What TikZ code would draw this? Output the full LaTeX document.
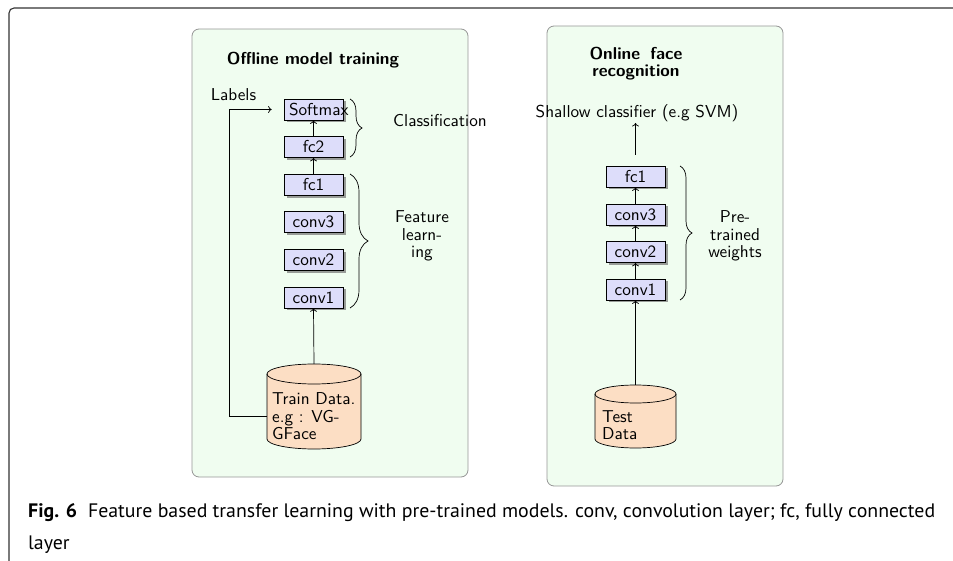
\documentclass[tikz,border=0pt]{standalone}
\usepackage{fontspec}
\setsansfont{lmsans10-regular.otf}[BoldFont=lmsans10-bold.otf]
\newfontfamily\capfont{PT Sans}
\usetikzlibrary{shadows,decorations.pathreplacing,arrows.meta}
\definecolor{boxfill}{RGB}{221,221,250}
\definecolor{cylfill}{RGB}{252,222,196}
\definecolor{panelfill}{RGB}{240,253,240}
\definecolor{panelline}{RGB}{150,150,150}
\definecolor{framecol}{RGB}{50,50,50}
\newsavebox\capbox
\begin{document}
\sbox\capbox{\capfont\fontsize{19.5}{20}\selectfont\begin{tabular}{@{}l@{}}\textbf{Fig. 6}\hspace{0.55em}Feature based transfer learning with pre-trained models. conv, convolution layer; fc, fully connected\\[12pt]layer\end{tabular}}%
\begin{tikzpicture}[x=1pt,y=1pt,
  every node/.style={font=\sffamily\fontsize{17.2}{17.5}\selectfont},
  layerbox/.style={draw=black, line width=0.7pt, fill=boxfill, minimum height=21pt,
    text width=49pt, inner xsep=5pt, inner ysep=0pt, align=center,
    drop shadow={shadow xshift=2.5pt,shadow yshift=-2.5pt,fill=black!55,opacity=.7}},
  panel/.style={draw=panelline, line width=0.8pt, fill=panelfill, rounded corners=7pt},
  conn/.style={-{To[length=3.5pt,width=7pt]}, line width=0.7pt},
  bracestyle/.style={line width=0.7pt, decorate},
  cylbody/.style={draw=black, line width=0.7pt, fill=cylfill},
  plain/.style={inner sep=0pt, align=center},
  titlestyle/.style={inner sep=0pt, align=center, font=\sffamily\bfseries\fontsize{17.2}{17.5}\selectfont}
]
\useasboundingbox (0,0) rectangle (953,-561);
% outer frame
\draw[framecol, line width=1.1pt, rounded corners=5pt] (9,-565) -- (9,-8) -- (960,-8);

% panels
\draw[panel] (192,-29) rectangle (468,-477);
\draw[panel] (547,-26) rectangle (783,-486);

% titles
\node[titlestyle] (t1) at (313,-60) {Offline model training};
\node[titlestyle] (t2) at (636,-63.5) {Online\hspace{0.6em}face\\recognition};

% ---------- left panel ----------
\node[layerbox] (soft) at (313.5,-109.5) {Softmax};
\node[layerbox] (fc2) at (313.5,-147) {fc2};
\node[layerbox] (fc1) at (313.5,-184.6) {fc1};
\node[layerbox] (conv3) at (313.5,-222.2) {conv3};
\node[layerbox] (conv2) at (313.5,-259.8) {conv2};
\node[layerbox] (conv1) at (313.5,-297.4) {conv1};

% train data cylinder
\node[inner sep=0pt, minimum width=94pt, minimum height=85pt] (train) at (314,-406.5) {};
\draw[cylbody] (267,-374) -- (267,-439) arc[start angle=180,end angle=360,x radius=47pt,y radius=10pt]
  -- (361,-374) arc[start angle=0,end angle=180,x radius=47pt,y radius=10pt] -- cycle;
\draw[line width=0.7pt] (267,-374) arc[start angle=180,end angle=360,x radius=47pt,y radius=10pt];
\node[inner sep=0pt, align=left, anchor=west] (traintxt) at (272,-416.5) {Train Data.\\e.g : VG-\\GFace};

\draw[conn] (train.north) -- (conv1.south);
\draw[conn] (fc1.north) -- (fc2.south);
\draw[conn] (fc2.north) -- (soft.south);

\node[plain] (labels) at (233.5,-95) {Labels};
\coordinate (trainleft) at (267,-416);
\draw[conn, shorten >=12pt] (trainleft) -- ++(-38,0) |- (soft.west);

\draw[bracestyle, decoration={brace, amplitude=12pt}] (350,-99) -- (350,-157);
\node[plain] (cls) at (440,-121) {Classification};
\draw[bracestyle, decoration={brace, amplitude=18pt}] (350,-174) -- (350,-308);
\node[plain] (feat) at (422,-236) {Feature\\learn-\\ing};

% ---------- right panel ----------
\node[layerbox] (rfc1) at (635.5,-176.5) {fc1};
\node[layerbox] (rconv3) at (635.5,-214.5) {conv3};
\node[layerbox] (rconv2) at (635.5,-252) {conv2};
\node[layerbox] (rconv1) at (635.5,-289.5) {conv1};

\node[inner sep=0pt, minimum width=81pt, minimum height=63pt] (test) at (635.5,-416.5) {};
\draw[cylbody] (595,-394) -- (595,-439) arc[start angle=180,end angle=360,x radius=40.5pt,y radius=9pt]
  -- (676,-394) arc[start angle=0,end angle=180,x radius=40.5pt,y radius=9pt] -- cycle;
\draw[line width=0.7pt] (595,-394) arc[start angle=180,end angle=360,x radius=40.5pt,y radius=9pt];
\node[inner sep=0pt, align=left, anchor=west] (testtxt) at (602,-425) {Test\\Data};

\draw[conn] (test.north) -- (rconv1.south);
\draw[conn] (rconv1.north) -- (rconv2.south);
\draw[conn] (rconv2.north) -- (rconv3.south);
\draw[conn] (rconv3.north) -- (rfc1.south);

\node[inner sep=0pt, anchor=south] (shallow) at (637,-122) {Shallow classifier (e.g SVM)};
\coordinate (clsin) at (635.5,-155);
\draw[conn, shorten >=1pt] (clsin) -- (clsin |- shallow.south);

\draw[bracestyle, decoration={brace, amplitude=12pt}] (680,-166) -- (680,-300);
\node[plain] (pre) at (735,-236) {Pre-\\trained\\weights};

% ---------- caption ----------
\node[anchor=north west, inner sep=0pt, text=black!90] (cap) at (28,-503) {\resizebox*{907pt}{\totalheight}{\usebox\capbox}};
\end{tikzpicture}
\end{document}
